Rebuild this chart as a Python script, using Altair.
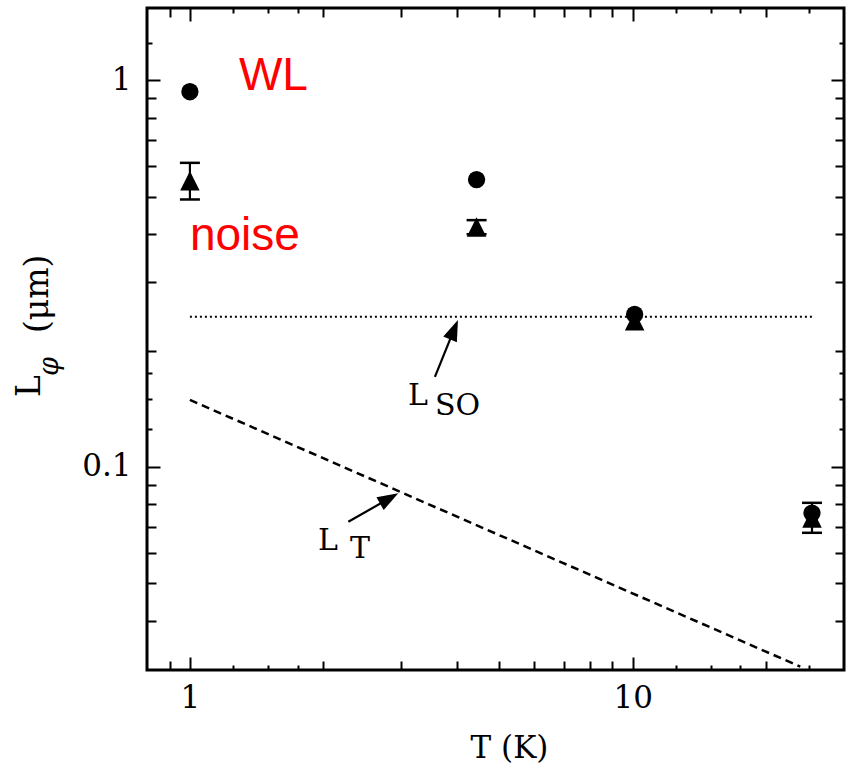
import math
import altair as alt
import pandas as pd

SERIF = "DejaVu Serif"
SANS = "Liberation Sans"

# ---------------- data ----------------
circle_T = [1.0, 4.44, 10.1, 25.4]
circle_L = [0.935, 0.554, 0.248, 0.0759]

tri_T = [1.0, 4.44, 10.1, 25.4]
tri_L = [0.55, 0.4175, 0.239, 0.0737]

err_T = [1.0, 4.44, 25.4]
err_lo = [0.492, 0.400, 0.0675]
err_hi = [0.612, 0.435, 0.0807]

lso_T = [1.0, 25.4]
lso_L = [0.2446, 0.2446]

lt_T = [1.0, 23.9]
lt_L = [0.149, 0.0304]

arrow_tail_T = [3.575, 2.279]
arrow_tail_L = [0.171, 0.0721]
arrow_tip_T = [4.03, 2.955]
arrow_tip_L = [0.240, 0.0854]

curve_text = ["L", "SO", "L", "T"]
curve_text_T = [3.108, 3.576, 1.947, 2.299]
curve_text_L = [0.1445, 0.1362, 0.0609, 0.0580]

red_text = ["WL", "noise"]
red_text_T = [1.29, 1.0]
red_text_L = [0.944, 0.364]

ytitle_main = ["L", "(μm)"]
ytitle_main_T = [0.4586, 0.478]
ytitle_main_L = [0.1516, 0.2220]
ytitle_sub = ["φ"]
ytitle_sub_T = [0.5036]
ytitle_sub_L = [0.1718]

x_major = [1, 10]
x_minor = [0.9, 2, 3, 4, 5, 6, 7, 8, 9, 20]
x_quarter = [1.25, 1.5, 1.75, 12.5, 15, 17.5, 25]
y_major = [0.1, 1]
y_minor = [0.04, 0.05, 0.06, 0.07, 0.08, 0.09,
           0.2, 0.3, 0.4, 0.5, 0.6, 0.7, 0.8, 0.9]
y_quarter = [0.125, 0.15, 0.175, 1.25]

X_DOMAIN = [0.8, 30]
Y_DOMAIN = [0.0298, 1.54]

# ---------------- layout ----------------
W, H = 697, 662
PAD = {"left": 147, "top": 8, "right": 2, "bottom": 94}

xs = alt.Scale(type="log", domain=X_DOMAIN, nice=False)
ys = alt.Scale(type="log", domain=Y_DOMAIN, nice=False)


def to_px(t, l):
    px = W * math.log10(t / X_DOMAIN[0]) / math.log10(X_DOMAIN[1] / X_DOMAIN[0])
    py = H * (1 - math.log10(l / Y_DOMAIN[0]) / math.log10(Y_DOMAIN[1] / Y_DOMAIN[0]))
    return px, py


def from_px(px, py):
    t = X_DOMAIN[0] * (X_DOMAIN[1] / X_DOMAIN[0]) ** (px / W)
    l = Y_DOMAIN[0] * (Y_DOMAIN[1] / Y_DOMAIN[0]) ** (1 - py / H)
    return t, l


# arrow geometry: angle of head and end of shaft (inside head)
ang, shaft_T, shaft_L = [], [], []
for t0, l0, t1, l1 in zip(arrow_tail_T, arrow_tail_L, arrow_tip_T, arrow_tip_L):
    x0, y0 = to_px(t0, l0)
    x1, y1 = to_px(t1, l1)
    dx, dy = x1 - x0, y1 - y0
    n = math.hypot(dx, dy)
    ang.append(math.degrees(math.atan2(dx, -dy)))
    te, le = from_px(x1 - 11 * dx / n, y1 - 11 * dy / n)
    shaft_T.append(te)
    shaft_L.append(le)

circles = pd.DataFrame({"T": circle_T, "L": circle_L})
tris = pd.DataFrame({"T": tri_T, "L": tri_L})
errs = pd.DataFrame({"T": err_T, "lo": err_lo, "hi": err_hi})
caps = pd.DataFrame({"T": err_T + err_T, "L": err_lo + err_hi})
lso = pd.DataFrame({"T": lso_T, "L": lso_L})
lt = pd.DataFrame({"T": lt_T, "L": lt_L})
shafts = pd.DataFrame({"T0": arrow_tail_T, "L0": arrow_tail_L,
                       "T1": shaft_T, "L1": shaft_L})
heads = pd.DataFrame({"T": arrow_tip_T, "L": arrow_tip_L, "ang": ang})
ctext = pd.DataFrame({"T": curve_text_T, "L": curve_text_L, "txt": curve_text})
rtext = pd.DataFrame({"T": red_text_T, "L": red_text_L, "txt": red_text})
ytm = pd.DataFrame({"T": ytitle_main_T, "L": ytitle_main_L, "txt": ytitle_main})
yts = pd.DataFrame({"T": ytitle_sub_T, "L": ytitle_sub_L, "txt": ytitle_sub})


def X(field="T", axis=None):
    return alt.X(f"{field}:Q", scale=xs, axis=axis)


def Y(field="L", axis=None):
    return alt.Y(f"{field}:Q", scale=ys, axis=axis)


layers = []

# ---- axis carriers (invisible) ----
x_label_axis = alt.Axis(
    orient="bottom", values=x_major, format="~g", grid=False, domain=False,
    ticks=False, tickSize=0, labelFont=SERIF, labelFontSize=31,
    labelColor="black", labelPadding=37, labelBaseline="alphabetic",
    title="T (K)", titleFont=SERIF, titleFontSize=31, titleFontWeight="normal",
    titleColor="black", titleX=362, titleY=87, titleBaseline="alphabetic",
    titleAlign="center")
y_label_axis = alt.Axis(
    orient="left", values=y_major, format="~g", grid=False, domain=False,
    ticks=False, tickSize=0, labelFont=SERIF, labelFontSize=31,
    labelColor="black", labelPadding=16, title=None)

layers.append(alt.Chart(circles).mark_point(opacity=0).encode(
    x=X(axis=x_label_axis), y=Y(axis=y_label_axis)))


def tick_axis(orient, values, size, offset):
    return alt.Axis(orient=orient, values=values, tickSize=size, offset=offset,
                    grid=False, domain=False, labels=False, ticks=True,
                    tickColor="black", tickWidth=2, title=None)


for xo, yo in [("top", "right"), ("bottom", "left")]:
    for xv, yv, size in [(x_major, y_major, 13), (x_minor, y_minor, 9),
                         (x_quarter, y_quarter, 5)]:
        layers.append(alt.Chart(circles).mark_point(opacity=0).encode(
            x=X(axis=tick_axis(xo, xv, size, -H)),
            y=Y(axis=tick_axis(yo, yv, size, -W))))

# ---- reference curves ----
layers.append(alt.Chart(lso).mark_line(
    color="black", strokeWidth=2, strokeDash=[2, 3]).encode(x=X(), y=Y()))
layers.append(alt.Chart(lt).mark_line(
    color="black", strokeWidth=2.5, strokeDash=[8, 5]).encode(x=X(), y=Y()))

# ---- arrows ----
layers.append(alt.Chart(shafts).mark_rule(color="black", strokeWidth=2.2).encode(
    x=X("T0"), y=Y("L0"), x2="T1:Q", y2="L1:Q"))
layers.append(alt.Chart(heads).mark_point(
    shape="M0,0L-0.7,2L0.7,2Z", filled=True, size=440, color="black",
    opacity=1, strokeWidth=0).encode(
    x=X(), y=Y(), angle=alt.Angle("ang:Q", scale=None)))

# ---- error bars ----
layers.append(alt.Chart(errs).mark_rule(color="black", strokeWidth=2.2).encode(
    x=X(), y=Y("lo"), y2="hi:Q"))
layers.append(alt.Chart(caps).mark_tick(
    orient="horizontal", color="black", size=20, thickness=2.5, opacity=1).encode(
    x=X(), y=Y()))

# ---- data points ----
layers.append(alt.Chart(tris).mark_point(
    shape="M0,-1L-1,1L1,1Z", filled=True, size=380, color="black",
    opacity=1, strokeWidth=0).encode(x=X(), y=Y()))
layers.append(alt.Chart(circles).mark_circle(
    size=300, color="black", opacity=1).encode(x=X(), y=Y()))

# ---- annotations ----
layers.append(alt.Chart(ctext).mark_text(
    font=SERIF, fontSize=30, color="black", align="left",
    baseline="alphabetic").encode(x=X(), y=Y(), text="txt:N"))
layers.append(alt.Chart(rtext).mark_text(
    font=SANS, fontSize=46, color="#ff0000", align="left",
    baseline="alphabetic").encode(x=X(), y=Y(), text="txt:N"))

# ---- y axis title (with subscript) ----
layers.append(alt.Chart(ytm).mark_text(
    font=SERIF, fontSize=33, color="black", align="left",
    baseline="alphabetic", angle=270).encode(x=X(), y=Y(), text="txt:N"))
layers.append(alt.Chart(yts).mark_text(
    font=SERIF, fontSize=27, fontStyle="italic", color="black", align="left",
    baseline="alphabetic", angle=270).encode(x=X(), y=Y(), text="txt:N"))

chart = alt.layer(*layers).resolve_axis(
    x="independent", y="independent"
).properties(
    width=W, height=H,
    autosize=alt.AutoSizeParams(type="none"),
    padding=PAD,
    background="white",
).configure_view(stroke="black", strokeWidth=3)

chart.save("out.html", embed_options={"renderer": "svg", "actions": False})
